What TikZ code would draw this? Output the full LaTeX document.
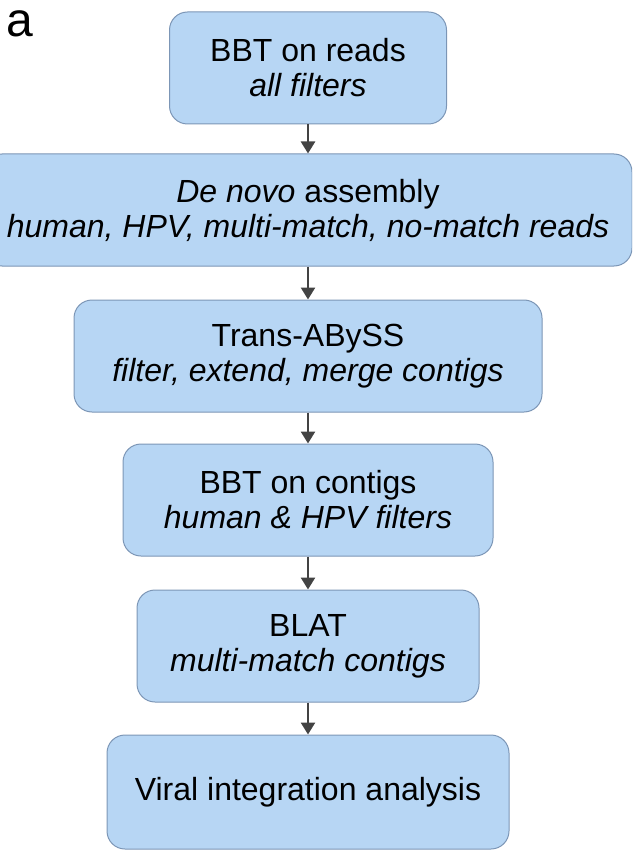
\documentclass[tikz,border=0pt]{standalone}
\usepackage{fontspec}
\setmainfont{Liberation Sans}
\usetikzlibrary{arrows.meta}
\definecolor{bfill}{RGB}{183,214,244}
\definecolor{bline}{RGB}{124,150,182}
\definecolor{agray}{RGB}{67,67,67}
\tikzset{bx/.append style={draw=bline, fill=bfill, line width=1pt, rounded corners=18pt, align=center, inner sep=0pt, minimum height=112pt, font=\fontsize{32}{35}\selectfont}}
\tikzset{ar/.append style={draw=agray, line width=2.6pt, -{Triangle[width=14pt,length=12pt]}}}

\begin{document}
\begin{tikzpicture}[x=1pt,y=-1pt]
                \useasboundingbox (0,0) rectangle (632,850);
                \clip (0,0) rectangle (632,850);
                % panel letter
                \node[anchor=base west, inner sep=0pt, font=\fontsize{48}{48}\selectfont] (lbl) at (6,37) {a};
                % steps
                \node[bx, minimum width=277pt] (r) at (308,68) {BBT on reads\\ \textit{all filters}};
                \node[bx, minimum width=648pt] (d) at (308,210) {\textit{De novo} assembly\\ \textit{human, HPV, multi-match, no-match reads}};
                \node[bx, minimum width=468pt] (t) at (308,356) {Trans-ABySS\\ \textit{filter, extend, merge contigs}};
                \node[bx, minimum width=370pt] (c) at (308,500) {BBT on contigs\\ \textit{human \& HPV filters}};
                \node[bx, minimum width=342pt] (l) at (308,646) {BLAT\\ \textit{multi-match contigs}};
                \node[bx, minimum width=402pt, minimum height=114pt] (v) at (308,792) {Viral integration analysis};
                \path (r) edge[ar] (d);
                \path (d) edge[ar] (t);
                \path (t) edge[ar] (c);
                \path (c) edge[ar] (l);
                \path (l) edge[ar] (v);
            \end{tikzpicture}
\end{document}
